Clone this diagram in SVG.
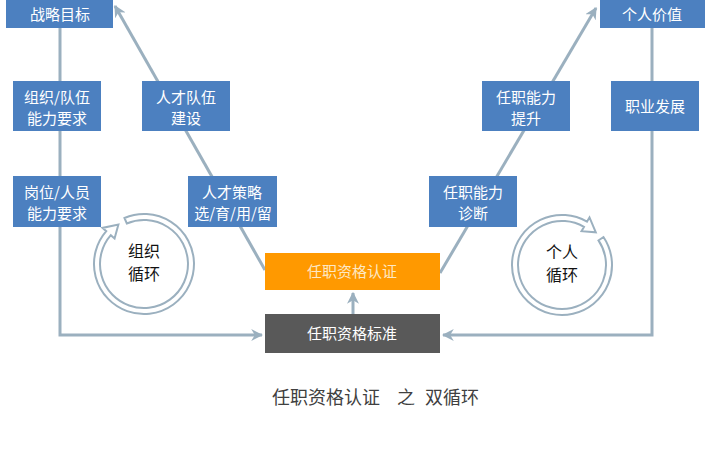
<svg xmlns="http://www.w3.org/2000/svg" width="718" height="453" viewBox="0 0 718 453">
<defs>
<style>
.b{fill:#4c80c0}
.t{font-family:"Noto Sans CJK SC","Noto Sans",sans-serif;font-size:15px;fill:#ffffff;text-anchor:middle}
.ln{fill:none;stroke:#9bb0bf;stroke-width:3}
.ring{fill:#ffffff;stroke:#9bb0bf;stroke-width:2}
.c{font-family:"Noto Sans CJK SC","Noto Sans",sans-serif;font-size:16px;fill:#111111;text-anchor:middle}
</style>
<marker id="ah" viewBox="0 0 10 10" refX="9" refY="5" markerWidth="4" markerHeight="4" orient="auto" markerUnits="strokeWidth">
<path d="M0,0 L10,5 L0,10 L3,5 z" fill="#9bb0bf"/>
</marker>
<clipPath id="cp1"><rect x="188" y="176" width="89" height="51"/></clipPath>
</defs>
<rect width="718" height="453" fill="#ffffff"/>
<g id="connectors">
<path class="ln" d="M60,28 V335 H262" marker-end="url(#ah)"/>
<path class="ln" d="M652,28 V335 H443" marker-end="url(#ah)"/>
<path class="ln" d="M353,314 V293" marker-end="url(#ah)"/>
<path class="ln" d="M265,270 L115,6" marker-end="url(#ah)"/>
<path class="ln" d="M440,273 L596,8" marker-end="url(#ah)"/>
</g>
<g id="n-strategy"><rect class="b" x="6" y="-24" width="107" height="52"/><text class="t" x="60" y="20">战略目标</text></g>
<g id="n-value"><rect class="b" x="600" y="-24" width="105" height="52"/><text class="t" x="652" y="20">个人价值</text></g>
<g id="n-org"><rect class="b" x="13" y="81" width="88" height="50"/><text class="t" x="57" y="103">组织/队伍</text><text class="t" x="57" y="124">能力要求</text></g>
<g id="n-team"><rect class="b" x="142" y="81" width="88" height="50"/><text class="t" x="186" y="103">人才队伍</text><text class="t" x="186" y="124">建设</text></g>
<g id="n-improve"><rect class="b" x="482" y="81" width="88" height="50"/><text class="t" x="526" y="103">任职能力</text><text class="t" x="526" y="124">提升</text></g>
<g id="n-career"><rect class="b" x="611" y="81" width="88" height="50"/><text class="t" x="655" y="112">职业发展</text></g>
<g id="n-post"><rect class="b" x="13" y="176" width="88" height="51"/><text class="t" x="57" y="198">岗位/人员</text><text class="t" x="57" y="219">能力要求</text></g>
<g id="n-talent"><rect class="b" x="188" y="176" width="89" height="51"/><g clip-path="url(#cp1)"><text class="t" x="232" y="198">人才策略</text><text class="t" x="233" y="219">选/育/用/留</text></g></g>
<g id="n-diag"><rect class="b" x="429" y="176" width="88" height="51"/><text class="t" x="473" y="198">任职能力</text><text class="t" x="473" y="219">诊断</text></g>
<g id="n-cert"><rect x="265" y="253" width="175" height="37" fill="#ff9900"/><text class="t" x="352" y="277" style="fill:#fde8c4">任职资格认证</text></g>
<g id="n-std"><rect x="265" y="314" width="175" height="39" fill="#595959"/><text class="t" x="352" y="339">任职资格标准</text></g>
<g id="n-orgcycle">
<path class="ring" d="M124.46,217.97 A50,50 0 1 1 106.26,231.19 L102.49,227.91 L118.40,224.58 L114.57,238.41 L110.79,235.13 A44,44 0 1 0 126.81,223.50 Z"/>
<text class="c" x="144" y="257">组织</text><text class="c" x="144" y="280">循环</text>
</g>
<g id="n-personcycle">
<path class="ring" d="M603.45,237.04 A50,50 0 1 1 587,221.70 L589.5,217.37 L595.81,232.35 L581.5,231.23 L584,226.90 A44,44 0 1 0 598.48,240.40 Z"/>
<text class="c" x="562" y="258">个人</text><text class="c" x="562" y="281">循环</text>
</g>
<text font-family="Noto Sans CJK SC, Noto Sans, sans-serif" font-size="18" fill="#404040" y="404"><tspan x="272">任职资格认证</tspan><tspan x="397">之</tspan><tspan x="425">双循环</tspan></text>
</svg>
